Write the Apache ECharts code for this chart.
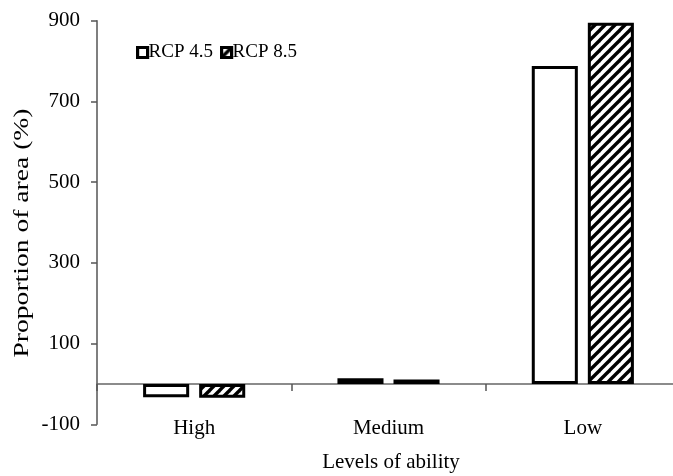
<!DOCTYPE html>
<html>
<head>
<meta charset="utf-8">
<script src="https://cdn.jsdelivr.net/npm/echarts@6/dist/echarts.min.js"></script>
<style>
  html, body { margin: 0; padding: 0; background: #fff; }
  #chart { width: 673px; height: 476px; }
</style>
</head>
<body>
<div id="chart"></div>
<script>
// Change in area proportion by level of ability under two climate scenarios
const categories = ['High', 'Medium', 'Low'];
const seriesNames = ['RCP 4.5', 'RCP 8.5'];
const rcp45 = [-33, 14, 788];
const rcp85 = [-34, 11, 895];
const yTicks = [-100, 100, 300, 500, 700, 900];

const FONT = '"Liberation Serif", "Times New Roman", serif';

// Diagonal hatch fill ("/" stripes, black on white)
function hatchPattern() {
  const s = 10;
  const c = document.createElement('canvas');
  c.width = s; c.height = s;
  const g = c.getContext('2d');
  g.fillStyle = '#fff';
  g.fillRect(0, 0, s, s);
  g.strokeStyle = '#000';
  g.lineWidth = 3.4;
  g.lineCap = 'square';
  [[-s, s, s, -s], [0, s, s, 0], [0, 2 * s, 2 * s, 0]].forEach(function (l) {
    g.beginPath();
    g.moveTo(l[0], l[1]);
    g.lineTo(l[2], l[3]);
    g.stroke();
  });
  return c;
}

const chart = echarts.init(document.getElementById('chart'), null, { renderer: 'canvas' });

const barStyleCommon = { borderColor: '#000', borderWidth: 3 };

chart.setOption({
  animation: false,
  backgroundColor: '#fff',
  textStyle: { fontFamily: FONT },
  // plot area runs slightly past the right edge of the canvas
  grid: {
    left: 97, width: 583, top: 20.7, height: 403.6,
    containLabel: false, outerBoundsMode: 'none'
  },
  legend: {
    data: seriesNames,
    icon: 'rect',
    left: 131,
    top: 38,
    itemWidth: 10,
    itemHeight: 10,
    itemGap: 7,
    itemStyle: { borderWidth: 3.2, borderColor: '#000' },
    textStyle: { fontFamily: FONT, fontSize: 19, color: '#000', padding: [0, 0, 0, -4] }
  },
  xAxis: [
    {
      // zero line with boundary ticks
      type: 'category',
      data: categories,
      position: 'bottom',
      axisLine: { onZero: true, lineStyle: { color: '#666', width: 1.5 } },
      axisTick: { show: true, length: 7, lineStyle: { color: '#555', width: 1.5 } },
      axisLabel: { show: false }
    },
    {
      // category labels along the bottom edge
      type: 'category',
      data: categories,
      position: 'bottom',
      axisLine: { show: false },
      axisTick: { show: false },
      axisLabel: { show: true, fontFamily: FONT, fontSize: 21, color: '#000', margin: -6 }
    }
  ],
  yAxis: {
    type: 'value',
    min: yTicks[0],
    max: yTicks[yTicks.length - 1],
    interval: 200,
    splitLine: { show: false },
    axisLine: { show: true, lineStyle: { color: '#555', width: 1.5 } },
    axisTick: { show: true, length: 6, lineStyle: { color: '#555', width: 1.5 } },
    axisLabel: { fontFamily: FONT, fontSize: 21, color: '#000', margin: 17 }
  },
  graphic: [
    {
      type: 'text',
      position: [23, 233],
      rotation: Math.PI / 2,
      scaleX: 1.38,
      style: {
        text: 'Proportion of area (%)',
        font: '20px ' + FONT,
        fill: '#000',
        textAlign: 'center',
        textVerticalAlign: 'middle'
      }
    },
    {
      type: 'text',
      position: [391, 462],
      style: {
        text: 'Levels of ability',
        font: '21px ' + FONT,
        fill: '#000',
        textAlign: 'center',
        textVerticalAlign: 'middle'
      }
    }
  ],
  series: [
    {
      name: seriesNames[0],
      type: 'bar',
      xAxisIndex: 0,
      data: rcp45,
      barWidth: '23.7%',
      barGap: '21.7%',
      itemStyle: Object.assign({ color: '#fff' }, barStyleCommon)
    },
    {
      name: seriesNames[1],
      type: 'bar',
      xAxisIndex: 0,
      data: rcp85,
      barWidth: '23.7%',
      barGap: '21.7%',
      itemStyle: Object.assign({ color: { image: hatchPattern(), repeat: 'repeat' } }, barStyleCommon)
    }
  ]
});
</script>
</body>
</html>
